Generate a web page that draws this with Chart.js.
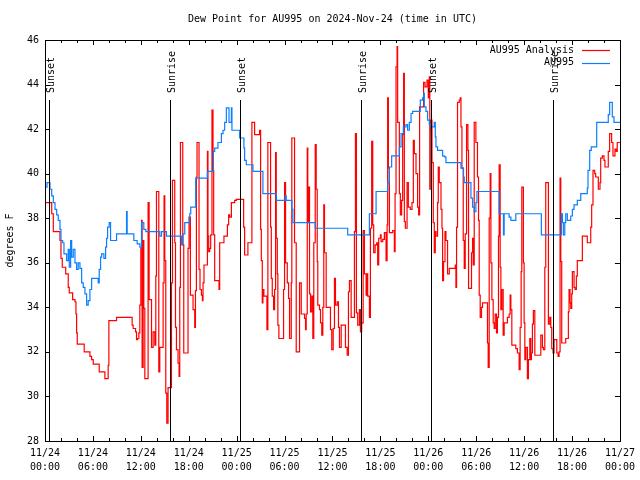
<!DOCTYPE html>
<html>
<head>
<meta charset="utf-8">
<script src="https://cdn.jsdelivr.net/npm/chart.js@4.4.1/dist/chart.umd.min.js"></script>
<style>
  html, body { margin: 0; padding: 0; background: #fff; }
  canvas { display: block; }
</style>
</head>
<body>
<canvas id="graph" width="640" height="480"></canvas>
<script>
// hours since 11/24 00:00 UTC, dew point in F
const analysisHours = [0, 0.84, 1.04, 1.875, 2.0, 2.16, 2.59, 2.91, 3.04, 3.46, 3.75, 3.875, 3.96, 4.04, 4.91, 5.625, 5.84, 6.04, 6.79, 7.5, 7.91, 8.0, 8.96, 10.91, 11.04, 11.34, 11.46, 11.59, 11.75, 11.875, 12.0, 12.09, 12.16, 12.29, 12.375, 12.5, 12.91, 13.04, 13.34, 13.54, 13.75, 13.875, 13.96, 14.25, 14.375, 14.79, 14.91, 15.0, 15.125, 15.25, 15.41, 15.84, 15.96, 16.25, 16.34, 16.46, 16.66, 16.79, 16.875, 16.96, 17.25, 17.375, 17.91, 18.04, 18.21, 18.54, 18.75, 18.84, 18.96, 19.04, 19.29, 19.41, 19.59, 19.71, 19.79, 19.91, 20.34, 20.41, 20.5, 20.625, 20.75, 20.91, 21.04, 21.125, 21.25, 21.79, 21.875, 22.41, 22.84, 23.0, 23.125, 23.34, 23.75, 23.96, 24.875, 25.0, 25.41, 25.91, 26.25, 26.875, 27.0, 27.09, 27.21, 27.29, 27.41, 27.79, 27.91, 28.25, 28.34, 28.46, 28.625, 28.75, 28.875, 28.96, 29.09, 29.16, 29.29, 29.875, 30.0, 30.125, 30.34, 30.5, 30.625, 30.84, 30.91, 31.25, 31.46, 31.875, 32.09, 32.5, 32.625, 32.71, 32.84, 32.91, 33.0, 33.125, 33.25, 33.41, 33.54, 33.66, 33.84, 33.96, 34.09, 34.16, 34.375, 34.5, 34.66, 34.79, 34.91, 35.0, 35.21, 35.75, 35.91, 36.09, 36.25, 36.375, 36.59, 36.75, 36.875, 37.09, 37.625, 37.84, 38.0, 38.125, 38.34, 38.75, 38.875, 39.0, 39.16, 39.375, 39.5, 39.66, 39.84, 40.0, 40.21, 40.34, 40.41, 40.625, 40.75, 40.91, 41.04, 41.16, 41.34, 41.54, 41.66, 41.79, 42.0, 42.09, 42.29, 42.5, 42.71, 42.84, 42.91, 43.0, 43.125, 43.54, 43.75, 43.84, 43.96, 44.09, 44.16, 44.375, 44.5, 44.66, 44.79, 44.91, 45.0, 45.125, 45.34, 45.5, 45.75, 45.96, 46.125, 46.25, 46.46, 46.66, 46.79, 46.91, 47.41, 47.59, 47.84, 48.0, 48.125, 48.19, 48.25, 48.34, 48.46, 48.625, 48.75, 48.875, 48.96, 49.16, 49.25, 49.375, 49.59, 49.71, 49.79, 49.91, 50.09, 50.21, 50.41, 50.625, 51.375, 51.46, 51.54, 51.66, 51.875, 52.0, 52.09, 52.21, 52.375, 52.5, 52.625, 52.79, 52.96, 53.04, 53.41, 53.54, 53.625, 53.75, 53.96, 54.16, 54.29, 54.375, 54.5, 54.66, 54.79, 55.41, 55.5, 55.625, 55.75, 55.84, 55.96, 56.125, 56.25, 56.375, 56.54, 56.66, 56.79, 56.875, 57.0, 57.09, 57.21, 57.375, 57.5, 57.91, 58.125, 58.25, 58.34, 58.46, 58.96, 59.16, 59.375, 59.5, 59.625, 59.71, 59.91, 60.0, 60.09, 60.21, 60.41, 60.54, 60.71, 60.84, 60.91, 61.04, 61.16, 61.34, 62.09, 62.29, 62.41, 62.59, 62.71, 63.04, 63.21, 63.34, 63.46, 63.625, 63.75, 64.09, 64.25, 64.375, 64.5, 64.59, 64.71, 65.21, 65.54, 65.625, 65.75, 65.84, 65.96, 66.04, 66.25, 66.375, 66.54, 66.66, 67.29, 67.91, 68.34, 68.46, 68.625, 68.84, 68.96, 69.29, 69.5, 69.59, 69.79, 70.0, 70.125, 70.54, 70.71, 70.96, 71.125, 71.375, 71.54, 71.66, 72.0];
const analysisDew = [38.7, 38.2, 37.4, 37.0, 36.2, 35.8, 35.5, 34.9, 34.65, 34.35, 34.25, 33.7, 32.85, 32.35, 32.0, 31.8, 31.65, 31.45, 31.1, 30.8, 31.4, 33.4, 33.55, 33.2, 33.05, 32.9, 32.55, 32.6, 32.85, 34.1, 36.65, 37.9, 31.3, 37.0, 33.95, 30.8, 38.7, 34.35, 32.2, 32.9, 32.3, 35.4, 39.2, 31.1, 32.2, 35.1, 39.0, 36.1, 30.15, 28.8, 30.4, 35.1, 39.7, 36.9, 33.1, 32.1, 31.5, 30.9, 34.9, 41.4, 36.8, 31.95, 36.65, 38.05, 34.55, 33.9, 33.1, 34.75, 39.85, 41.4, 35.7, 34.8, 34.55, 34.3, 35.1, 35.9, 41.0, 37.2, 36.5, 36.65, 37.25, 42.85, 40.15, 37.25, 35.2, 34.8, 36.9, 37.2, 37.7, 38.15, 38.05, 38.7, 38.8, 38.85, 37.6, 36.35, 36.9, 42.3, 41.75, 41.95, 37.5, 36.1, 34.2, 34.8, 34.5, 33.0, 41.4, 37.6, 35.3, 34.5, 33.9, 34.8, 40.95, 37.1, 35.5, 33.2, 32.6, 34.8, 39.6, 36.0, 35.1, 34.4, 32.6, 35.1, 41.6, 36.9, 32.0, 35.1, 33.7, 33.5, 33.0, 33.7, 41.15, 37.8, 39.4, 34.6, 33.8, 34.5, 32.6, 36.9, 41.3, 39.3, 36.05, 34.1, 33.9, 33.3, 32.75, 34.0, 38.6, 36.45, 34.0, 33.0, 32.1, 33.05, 35.3, 34.1, 34.25, 33.1, 32.2, 33.2, 32.2, 31.85, 34.7, 35.2, 33.55, 37.4, 41.8, 33.75, 33.2, 33.9, 32.9, 33.3, 37.45, 35.5, 34.55, 35.5, 34.5, 33.55, 37.55, 41.45, 37.7, 36.45, 36.8, 36.9, 35.9, 37.1, 37.25, 36.95, 37.05, 37.35, 36.1, 37.7, 43.4, 40.25, 37.35, 37.45, 36.5, 39.1, 44.8, 45.7, 42.3, 39.1, 38.15, 38.8, 41.75, 44.5, 37.85, 37.55, 39.6, 38.5, 38.4, 38.7, 41.5, 40.9, 40.0, 38.5, 38.15, 43.0, 44.1, 43.9, 44.2, 43.4, 44.35, 39.3, 41.95, 42.4, 40.5, 37.8, 36.45, 37.4, 37.2, 38.7, 40.3, 39.6, 38.4, 37.55, 35.2, 36.05, 37.4, 37.0, 35.5, 35.75, 35.9, 34.9, 37.6, 43.2, 43.3, 43.4, 42.1, 40.25, 37.0, 35.75, 37.3, 42.2, 41.05, 34.85, 36.45, 37.1, 35.9, 42.3, 41.4, 39.85, 37.9, 34.55, 33.55, 34.0, 34.2, 32.4, 31.3, 38.0, 40.0, 36.0, 34.35, 33.3, 33.05, 33.7, 32.85, 33.55, 37.2, 40.4, 35.8, 33.9, 34.8, 32.75, 33.3, 33.55, 33.7, 34.55, 33.9, 32.3, 32.15, 31.95, 31.2, 33.1, 35.6, 39.4, 36.0, 33.3, 31.65, 32.2, 30.8, 31.65, 32.6, 31.65, 31.95, 33.25, 33.85, 31.85, 32.75, 32.2, 32.1, 35.8, 39.6, 33.25, 33.55, 33.1, 32.15, 31.95, 32.55, 31.95, 31.8, 32.0, 39.8, 36.05, 32.4, 32.6, 33.8, 34.8, 34.2, 33.95, 34.6, 35.6, 34.9, 34.8, 35.4, 36.1, 37.2, 36.9, 37.6, 38.6, 40.15, 40.0, 39.85, 39.3, 39.6, 40.7, 40.8, 40.6, 40.3, 41.0, 41.8, 41.4, 40.8, 41.1, 41.0, 41.4, 41.4];

const obsHours = [0, 0.25, 0.625, 0.84, 1.04, 1.25, 1.46, 1.66, 1.875, 2.0, 2.21, 2.375, 2.71, 2.91, 3.04, 3.21, 3.34, 3.54, 3.75, 3.96, 4.16, 4.375, 4.59, 4.79, 5.0, 5.21, 5.41, 5.625, 5.84, 6.66, 6.79, 6.96, 7.09, 7.375, 7.59, 7.71, 7.84, 8.04, 8.21, 8.96, 10.21, 10.29, 11.125, 11.54, 11.875, 12.09, 12.375, 12.625, 14.375, 14.59, 15.21, 17.09, 17.29, 17.5, 18.125, 18.25, 18.875, 20.34, 21.09, 21.25, 21.66, 22.09, 22.29, 22.5, 22.71, 23.04, 23.34, 23.41, 24.375, 24.91, 25.0, 25.21, 26.04, 27.29, 28.96, 30.09, 30.21, 30.91, 31.04, 33.84, 37.91, 40.625, 41.46, 42.91, 43.125, 43.41, 44.375, 44.59, 44.875, 45.21, 45.41, 45.625, 45.84, 46.04, 47.0, 47.29, 47.41, 47.5, 47.71, 47.91, 48.125, 48.34, 48.75, 48.875, 48.96, 49.16, 49.79, 50.0, 50.21, 52.09, 52.41, 52.5, 53.34, 53.54, 53.75, 53.96, 54.09, 56.875, 57.41, 57.5, 58.125, 58.34, 58.96, 62.16, 64.66, 64.79, 64.91, 65.09, 65.21, 65.41, 65.84, 66.04, 66.25, 66.66, 67.09, 67.91, 68.0, 68.21, 68.41, 69.09, 70.54, 70.71, 71.04, 71.25, 72.0];
const obsDew = [39.4, 39.6, 39.3, 39.0, 38.7, 38.4, 38.15, 37.9, 37.5, 37.0, 36.9, 36.4, 36.1, 36.6, 35.8, 37.0, 36.25, 36.6, 36.0, 35.7, 36.0, 35.75, 35.1, 34.9, 34.6, 34.1, 34.3, 34.8, 35.3, 35.1, 35.7, 36.25, 36.4, 36.2, 36.7, 37.1, 37.6, 37.8, 37.0, 37.3, 38.3, 37.3, 37.0, 36.85, 36.7, 37.8, 37.5, 37.4, 37.2, 37.4, 37.2, 36.8, 37.3, 37.8, 38.2, 38.5, 39.8, 40.1, 41.0, 41.15, 41.4, 41.8, 41.95, 42.3, 42.95, 42.3, 42.95, 41.95, 41.6, 41.15, 40.6, 40.4, 40.1, 39.1, 38.8, 39.0, 38.8, 38.4, 37.8, 37.55, 37.25, 38.2, 39.2, 39.6, 40.3, 40.8, 41.2, 41.8, 42.1, 42.2, 41.95, 42.3, 42.7, 42.8, 43.3, 43.4, 43.6, 43.0, 42.8, 42.4, 42.2, 42.1, 42.3, 41.65, 41.2, 41.05, 40.8, 40.75, 40.5, 40.25, 39.85, 39.6, 38.9, 38.5, 38.3, 38.7, 39.2, 38.2, 37.25, 38.2, 38.05, 37.9, 38.2, 37.25, 38.2, 37.8, 37.25, 37.8, 38.2, 37.9, 38.1, 38.4, 38.6, 38.8, 39.1, 39.35, 40.15, 41.05, 41.2, 42.3, 42.65, 43.2, 42.55, 42.3, 42.3];

const sunHours = [0.5, 15.625, 24.375, 39.625, 48.375, 63.625];
const sunLabels = ["Sunset", "Sunrise", "Sunset", "Sunrise", "Sunset", "Sunrise"];

const xTickDates = ["11/24", "11/24", "11/24", "11/24", "11/25", "11/25", "11/25", "11/25", "11/26", "11/26", "11/26", "11/26", "11/27"];
const xTickTimes = ["00:00", "06:00", "12:00", "18:00", "00:00", "06:00", "12:00", "18:00", "00:00", "06:00", "12:00", "18:00", "00:00"];

const FONT = "DejaVu Sans Mono";
const FSIZE = 10;

function toPoints(xs, ys) {
  return xs.map((x, i) => ({ x: x, y: ys[i] }));
}

// border, inward ticks, sun lines, title, legend
const gnuplotLook = {
  id: "gnuplotLook",
  afterDatasetsDraw(chart) {
    const ctx = chart.ctx;
    const a = chart.chartArea;
    const xs = chart.scales.x;
    const ys = chart.scales.y;

    ctx.save();
    ctx.strokeStyle = "#000";
    ctx.lineWidth = 1;

    // sunrise / sunset markers
    ctx.font = FSIZE + "px '" + FONT + "'";
    ctx.fillStyle = "#000";
    sunHours.forEach((h, i) => {
      const px = Math.round(xs.getPixelForValue(h)) + 0.5;
      ctx.beginPath();
      ctx.moveTo(px, a.top + 60);
      ctx.lineTo(px, a.bottom);
      ctx.stroke();
      ctx.save();
      ctx.translate(px + 2, a.top + 53);
      ctx.rotate(-Math.PI / 2);
      ctx.textAlign = "left";
      ctx.textBaseline = "middle";
      ctx.fillText(sunLabels[i], 0, 0);
      ctx.restore();
    });

    // frame
    ctx.strokeRect(Math.round(a.left) + 0.5, Math.round(a.top) + 0.5,
      Math.round(a.right - a.left), Math.round(a.bottom - a.top));

    // x ticks every 2h, bigger every 6h
    ctx.beginPath();
    for (let h = 2; h < 72; h += 2) {
      const px = Math.round(xs.getPixelForValue(h)) + 0.5;
      const len = h % 6 === 0 ? 5 : 3;
      ctx.moveTo(px, a.bottom);
      ctx.lineTo(px, a.bottom - len);
      ctx.moveTo(px, a.top);
      ctx.lineTo(px, a.top + len);
    }
    // y ticks
    for (let v = 30; v < 46; v += 2) {
      const py = Math.round(ys.getPixelForValue(v)) + 0.5;
      ctx.moveTo(a.left, py);
      ctx.lineTo(a.left + 5, py);
      ctx.moveTo(a.right, py);
      ctx.lineTo(a.right - 5, py);
    }
    ctx.stroke();

    // title
    ctx.textAlign = "center";
    ctx.textBaseline = "middle";
    ctx.fillText("Dew Point for AU995 on 2024-Nov-24 (time in UTC)", (a.left + a.right) / 2, 19);

    // legend
    ctx.textAlign = "right";
    chart.data.datasets.forEach((ds, i) => {
      const y = 50 + i * 12.5;
      ctx.fillStyle = "#000";
      ctx.fillText(ds.label, 574, y);
      ctx.strokeStyle = ds.borderColor;
      ctx.lineWidth = 1.2;
      ctx.beginPath();
      ctx.moveTo(582, Math.round(y) + 0.5);
      ctx.lineTo(610, Math.round(y) + 0.5);
      ctx.stroke();
    });
    ctx.restore();
  }
};

Chart.defaults.font.family = FONT;
Chart.defaults.font.size = FSIZE;
Chart.defaults.color = "#000";

const chart = new Chart(document.getElementById("graph").getContext("2d"), {
  type: "line",
  data: {
    datasets: [{
      label: "AU995 Analysis",
      data: toPoints(analysisHours, analysisDew),
      borderColor: "#ff0000",
      borderWidth: 1.2,
      stepped: true,
      pointRadius: 0,
      fill: false,
      order: 2
    }, {
      label: "AU995",
      data: toPoints(obsHours, obsDew),
      borderColor: "#0a7fff",
      borderWidth: 1.2,
      stepped: true,
      pointRadius: 0,
      fill: false,
      order: 1
    }]
  },
  options: {
    responsive: false,
    animation: false,
    layout: { padding: { top: 40, right: 19, bottom: 0, left: 0 } },
    plugins: {
      legend: { display: false },
      title: { display: false },
      tooltip: { enabled: false }
    },
    scales: {
      x: {
        type: "linear",
        min: 0,
        max: 72,
        grid: { display: false, drawTicks: false },
        border: { display: false },
        ticks: {
          stepSize: 6,
          autoSkip: false,
          maxRotation: 0,
          padding: 5,
          font: { size: FSIZE, lineHeight: 1.4 },
          callback: (v) => {
            const i = Math.round(v / 6);
            return [xTickDates[i], xTickTimes[i]];
          }
        },
        afterFit: (s) => { s.height = 39; }
      },
      y: {
        min: 28,
        max: 46,
        grid: { display: false, drawTicks: false },
        border: { display: false },
        ticks: { stepSize: 2, padding: 6 },
        title: { display: true, text: "degrees F", padding: { top: 4, bottom: 4 } },
        afterFit: (s) => { s.width = 45; }
      }
    }
  },
  plugins: [gnuplotLook]
});
</script>
</body>
</html>
